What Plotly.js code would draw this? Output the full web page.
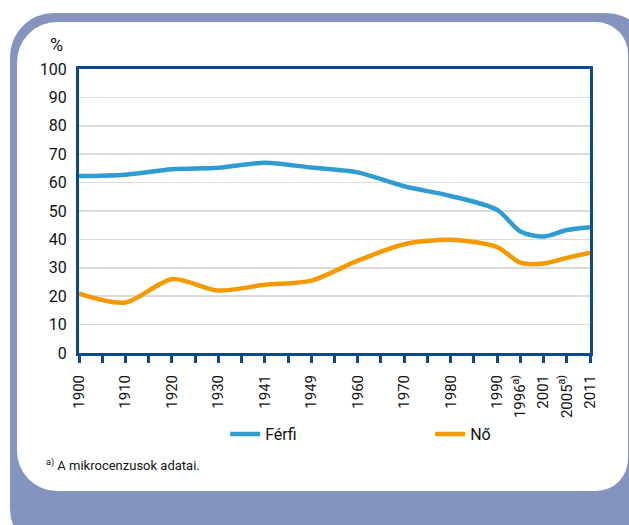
<!DOCTYPE html>
<html>
<head>
<meta charset="utf-8">
<script src="https://cdn.plot.ly/plotly-3.0.1.min.js"></script>
<style>
  html, body { margin: 0; padding: 0; width: 629px; height: 525px; overflow: hidden; background: #ffffff; }
  #outer { position: absolute; left: 10px; top: 13px; width: 640px; height: 540px; background: #8594be; border-radius: 44px; }
  #inner { position: absolute; left: 17px; top: 22px; width: 611px; height: 469px; background: #ffffff; border-radius: 40px 32px 32px 40px; }
  #chart { position: absolute; left: 0; top: 0; width: 629px; height: 525px; }
</style>
</head>
<body>
<div id="outer"></div>
<div id="inner"></div>
<div id="chart"></div>
<script>
// Census years (tick labels) and their slot on the category-like axis
const yearLabels = ['1900', '1910', '1920', '1930', '1941', '1949', '1960', '1970', '1980', '1990', '1996<sup>a)</sup>', '2001', '2005<sup>a)</sup>', '2011'];
const yearSlot   = [0, 2, 4, 6, 8, 10, 12, 14, 16, 18, 19, 20, 21, 22];
// Share (%) by sex
const ferfi = [62.3, 62.8, 64.7, 65.2, 67.0, 65.3, 63.6, 58.7, 55.3, 50.4, 42.8, 41.0, 43.3, 44.3];
const no    = [20.9, 17.8, 26.0, 22.0, 24.0, 25.5, 32.5, 38.3, 39.9, 37.3, 31.8, 31.5, 33.5, 35.3];
const seriesNames = ['Férfi', 'Nő'];
const footnote = '<sup>a)</sup> A mikrocenzusok adatai.';

const FONT = 'Roboto, "Liberation Sans", sans-serif';
const AXIS = '#0b4a8b';

// unlabelled slots between census years get minor tick marks
const minorSlots = [];
for (let s = 0; s <= yearSlot[yearSlot.length - 1]; s++) {
  if (yearSlot.indexOf(s) < 0) minorSlots.push(s);
}

const traces = [
  { x: yearSlot, y: ferfi, name: seriesNames[0], type: 'scatter', mode: 'lines',
    line: { color: '#2f9bd0', width: 4.5, shape: 'spline', smoothing: 0.8 } },
  { x: yearSlot, y: no, name: seriesNames[1], type: 'scatter', mode: 'lines',
    line: { color: '#f39a00', width: 4.5, shape: 'spline', smoothing: 0.8 } }
];

const layout = {
  width: 629, height: 525,
  margin: { l: 79, r: 39, t: 69, b: 172 },
  paper_bgcolor: 'rgba(0,0,0,0)',
  plot_bgcolor: '#ffffff',
  font: { family: FONT, size: 16, color: '#111111' },
  showlegend: true,
  legend: {
    orientation: 'h', xref: 'container', yref: 'container',
    x: 0.358, y: 1 - 434 / 525, xanchor: 'left', yanchor: 'middle',
    entrywidth: 160, entrywidthmode: 'pixels', itemwidth: 30,
    font: { family: FONT, size: 16, color: '#111111' },
    bgcolor: 'rgba(0,0,0,0)'
  },
  xaxis: {
    range: [0, 22], type: 'linear',
    tickmode: 'array', tickvals: yearSlot, ticktext: yearLabels,
    tickangle: -90, ticks: 'outside', ticklen: 7, tickwidth: 3, tickcolor: AXIS,
    ticklabelstandoff: 6,
    minor: { tickmode: 'array', tickvals: minorSlots, ticks: 'outside', ticklen: 7, tickwidth: 3, tickcolor: AXIS, showgrid: false },
    showline: true, linewidth: 3, linecolor: AXIS, mirror: true,
    showgrid: false, zeroline: false,
    tickfont: { family: FONT, size: 15, color: '#111111' }
  },
  yaxis: {
    range: [0, 100], dtick: 10, tick0: 0,
    ticks: '', showline: true, linewidth: 3, linecolor: AXIS, mirror: true,
    showgrid: true, gridcolor: '#dcdcd6', gridwidth: 1.5, zeroline: false,
    ticklabelstandoff: 6,
    tickfont: { family: FONT, size: 16, color: '#111111' }
  },
  annotations: [
    { text: '%', xref: 'paper', yref: 'paper', x: (56 - 79) / 511, y: (353 - 45) / 284,
      showarrow: false, xanchor: 'center', yanchor: 'middle',
      font: { family: FONT, size: 18, color: '#111111' } },
    { text: footnote, xref: 'paper', yref: 'paper', x: (44 - 79) / 511, y: (353 - 465) / 284,
      showarrow: false, xanchor: 'left', yanchor: 'middle',
      font: { family: FONT, size: 13, color: '#111111' } }
  ]
};

Plotly.newPlot('chart', traces, layout, { displayModeBar: false, staticPlot: true });
</script>
</body>
</html>
